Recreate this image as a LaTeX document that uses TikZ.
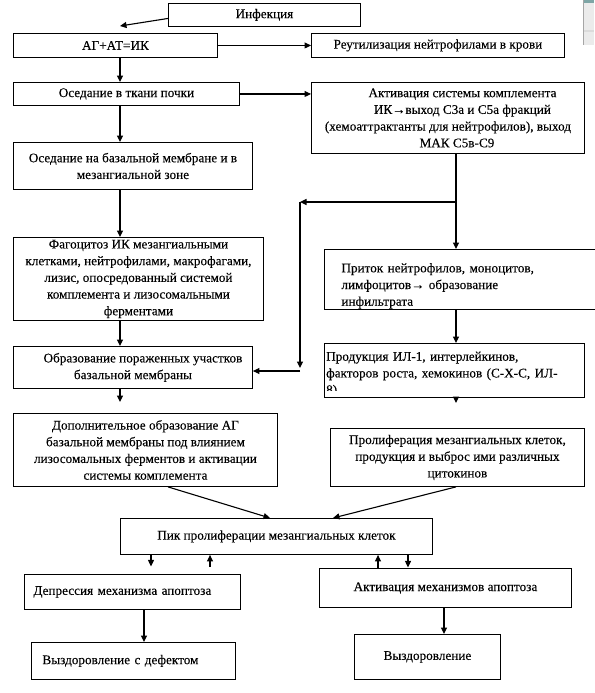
\documentclass[tikz,border=0pt]{standalone}
\usepackage{fontspec}
\setmainfont[FakeBold=0.15]{Liberation Serif}
\usetikzlibrary{arrows.meta}
\begin{document}
\begin{tikzpicture}[x=1pt,y=-1pt,
  txtfont/.style={font=\fontsize{13.2}{16.7}\selectfont},
  box/.style={draw, line width=0.9pt, rectangle, inner sep=0pt, align=center,
    anchor=north west, txtfont},
  lbox/.style={box, align=left},
  arr/.style={line width=1.1pt, -{Triangle[length=6.5pt,width=6pt]}},
  ln/.style={line width=1.1pt}]
\useasboundingbox (0,0) rectangle (594,693);
% screen artifact top right
\fill[black!8] (583,0) rectangle (594,45);
\fill[black!14] (583,30) rectangle (594,32);
\fill[teal!45!gray!70] (583,0) rectangle (594,3);
\draw[black!35, line width=0.6pt] (583.3,0) -- (583.3,45);

% boxes
\node[box, minimum width=192, minimum height=23] (inf) at (168,3) {Инфекция};
\node[box, minimum width=204, minimum height=24] (ag) at (13,33) {АГ+АТ=ИК};
\node[box, minimum width=253, minimum height=24] (reut) at (311,33) {Реутилизация нейтрофилами в крови};
\node[box, minimum width=226, minimum height=23] (os1) at (13,82) {Оседание в ткани почки};
\node[box, minimum width=273, minimum height=71] (act) at (311,82)
  {\hspace*{29pt}Активация системы комплемента\\
   \hspace*{29pt}ИК→выход С3а и С5а фракций\\
   (хемоаттрактанты для нейтрофилов), выход\\
   \hspace*{18pt}МАК С5в-С9};
\node[box, minimum width=239, minimum height=47] (os2) at (13,142)
  {Оседание на базальной мембране и в\\мезангиальной зоне};
\node[box, minimum width=250, minimum height=83] (fago) at (13,237)
  {Фагоцитоз ИК мезангиальными\\клетками, нейтрофилами, макрофагами,\\лизис, опосредованный системой\\комплемента и лизосомальными\\ферментами};
\node[lbox, minimum width=260, minimum height=60, text width=243, inner xsep=17pt] (prit) at (324,249)
  {\rule{0pt}{22pt}Приток нейтрофилов, моноцитов,\\лимфоцитов→ образование\\инфильтрата};
\node[box, minimum width=239, minimum height=42] (obr) at (13,346)
  {\hspace*{20pt}Образование пораженных участков\\базальной мембраны};
\node[box, minimum width=260, minimum height=54] (prod) at (324,343) {};
\begin{scope}
  \clip (324,343) rectangle (584,390);
  \node[txtfont, inner sep=0pt, anchor=north west, text width=255, align=left] (prodtxt) at (326,351.5)
    {Продукция ИЛ-1, интерлейкинов,\\факторов роста, хемокинов (С-Х-С, ИЛ-\\8)};
\end{scope}
\node[box, minimum width=264, minimum height=73] (dop) at (13,413)
  {Дополнительное образование АГ\\базальной мембраны под влиянием\\лизосомальных ферментов и активации\\системы комплемента};
\node[box, minimum width=254, minimum height=58] (prol) at (330,428)
  {Пролиферация мезангиальных клеток,\\продукция и выброс ими различных\\цитокинов};
\node[box, minimum width=312, minimum height=36] (pik) at (120,518)
  {Пик пролиферации мезангиальных клеток};
\node[lbox, minimum width=216, minimum height=35, text width=198, inner xsep=9pt] (depr) at (24,574)
  {Депрессия механизма апоптоза};
\node[box, minimum width=252, minimum height=39] (aktap) at (319,568)
  {Активация механизмов апоптоза};
\node[lbox, minimum width=204, minimum height=37, text width=182, inner xsep=11pt] (vyz1) at (31,642)
  {Выздоровление с дефектом};
\node[box, minimum width=146, minimum height=45] (vyz2) at (354,634)
  {Выздоровление};

% free ends
\coordinate (infend) at (120,26);
\coordinate (junc) at (300,202);
\coordinate (vend) at (300,368);
\coordinate (hstart) at (300,371);
\coordinate (obrend) at (120,402);
\coordinate (prodend) at (456,403);
\coordinate (pikL) at (270,518);
\coordinate (pikR) at (333,518);

% connectors
\draw[arr] ([yshift=-3.5pt]inf.west) -- (infend);
\draw[arr] (ag.south -| infend) -- (os1.north -| infend);
\draw[arr] (ag.east) -- (reut.west |- ag.east);
\draw[arr] (os1.east) -- (act.west |- os1.east);
\draw[arr] (os1.south -| infend) -- (os2.north -| infend);
\draw[arr] (os2.south -| infend) -- (fago.north -| infend);
\draw[arr] (fago.south -| infend) -- (obr.north -| infend);
\draw[arr] (obr.south -| infend) -- (obrend);
\draw[arr] (act.south -| prodend) -- (prit.north -| prodend);
\draw[ln] (act.south -| prodend) -- (junc -| prodend);
\draw[arr] (junc -| prodend) -- (junc);
\draw[arr] (junc) -- (vend);
\draw[arr] (hstart) -- (obr.east |- hstart);
\draw[arr] (prit.south -| prodend) -- (prod.north -| prodend);
\draw[arr] (prod.south -| prodend) -- (prodend);
\draw[arr] (dop.south -| 168,0) -- (pikL);
\draw[arr] (prol.south -| prodend) -- (pikR);
\draw[arr] (pik.south -| 151,0) -- ++(0,11.5);
\draw[arr] ([yshift=-12pt]pik.south -| 210,0) -- (pik.south -| 210,0);
\draw[arr] ([yshift=-13pt]pik.south -| 378,0) -- (pik.south -| 378,0);
\draw[arr] (pik.south -| 408,0) -- ++(0,12.5);
\draw[arr] (depr.south -| 144,0) -- (vyz1.north -| 144,0);
\draw[arr] (aktap.south -| 444,0) -- (vyz2.north -| 444,0);
\end{tikzpicture}
\end{document}
